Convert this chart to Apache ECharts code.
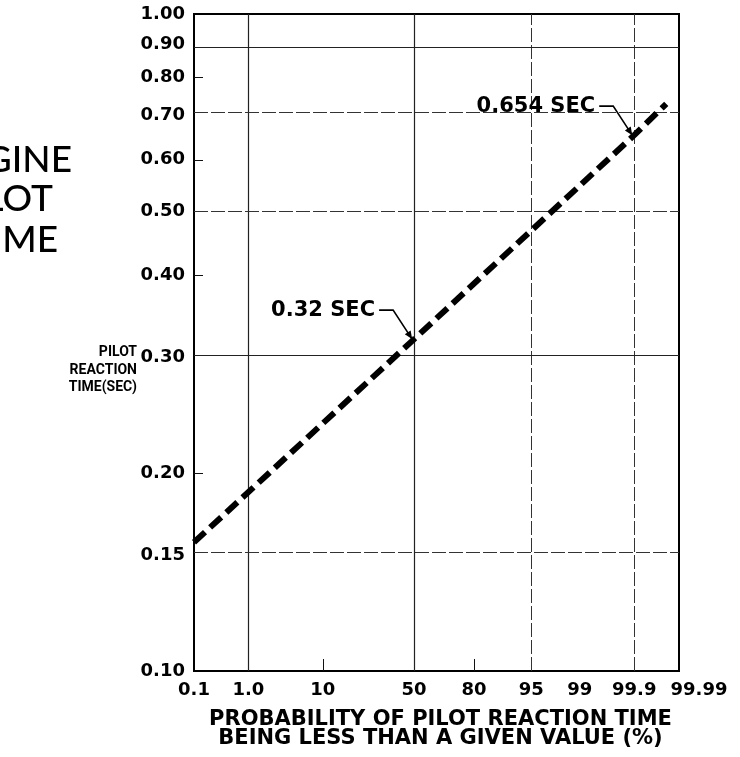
<!DOCTYPE html>
<html>
<head>
<meta charset="utf-8">
<script src="https://cdn.jsdelivr.net/npm/echarts@6/dist/echarts.min.js"></script>
<style>
  html, body { margin: 0; padding: 0; background: #fff; }
  #chart { width: 740px; height: 757px; }
</style>
</head>
<body>
<div id="chart"></div>
<script>
// Normal-probability x axis: tick positions (%) and their printed labels
const xTickPct = [0.1, 1, 10, 50, 80, 95, 99, 99.9, 99.99];
const xTickLabels = ['0.1', '1.0', '10', '50', '80', '95', '99', '99.9', '99.99'];
const xGridPct = [1, 50, 95, 99.9];
const xShortTickPct = [10, 80];

// Log reaction-time y axis (seconds)
const yTickValues = [0.10, 0.15, 0.20, 0.30, 0.40, 0.50, 0.60, 0.70, 0.80, 0.90, 1.00];
const yGridValues = [0.90, 0.70, 0.50, 0.30, 0.15];
const yShortTickValues = [0.20, 0.40, 0.60, 0.80];

// Reaction-time distribution line
const linePct = [0.1, 50, 99.9, 99.98];
const lineSec = [0.157, 0.32, 0.654, 0.73];

// Called-out points on the line
const calloutPct = [50, 99.9];
const calloutSec = [0.32, 0.654];
const calloutText = ['0.32 SEC', '0.654 SEC'];

// Standard normal quantile (Acklam's rational approximation) used for the probability scale
function probit(p) {
  const a = [-3.969683028665376e+01, 2.209460984245205e+02, -2.759285104469687e+02,
             1.383577518672690e+02, -3.066479806614716e+01, 2.506628277459239e+00];
  const b = [-5.447609879822406e+01, 1.615858368580409e+02, -1.556989798598866e+02,
             6.680131188771972e+01, -1.328068155288572e+01];
  const c = [-7.784894002430293e-03, -3.223964580411365e-01, -2.400758277161838e+00,
             -2.549732539343734e+00, 4.374664141464968e+00, 2.938163982698783e+00];
  const d = [7.784695709041462e-03, 3.224671290700398e-01, 2.445134137142996e+00,
             3.754408661907416e+00];
  const pl = 0.02425, ph = 1 - pl;
  let q, r;
  if (p < pl) {
    q = Math.sqrt(-2 * Math.log(p));
    return (((((c[0]*q+c[1])*q+c[2])*q+c[3])*q+c[4])*q+c[5]) / ((((d[0]*q+d[1])*q+d[2])*q+d[3])*q+1);
  }
  if (p <= ph) {
    q = p - 0.5; r = q * q;
    return (((((a[0]*r+a[1])*r+a[2])*r+a[3])*r+a[4])*r+a[5])*q / (((((b[0]*r+b[1])*r+b[2])*r+b[3])*r+b[4])*r+1);
  }
  q = Math.sqrt(-2 * Math.log(1 - p));
  return -(((((c[0]*q+c[1])*q+c[2])*q+c[3])*q+c[4])*q+c[5]) / ((((d[0]*q+d[1])*q+d[2])*q+d[3])*q+1);
}
const zx = pct => probit(pct / 100);
const ly = v => Math.log10(v);

const xTickZ = xTickPct.map(zx);
function xLabelFor(v) {
  let best = 0;
  xTickZ.forEach((z, i) => { if (Math.abs(z - v) < Math.abs(xTickZ[best] - v)) best = i; });
  return xTickLabels[best];
}

const TICK_FONT = 'DejaVu Sans';
const TITLE_FONT = 'DejaVu Sans';

const solidGrid = { color: '#222', width: 1.2, type: 'solid' };
const dashGrid = { color: '#333', width: 1, type: [14, 3] };
const solidX = new Set([1, 50]);
const solidY = new Set([0.90, 0.30]);

const chart = echarts.init(document.getElementById('chart'), null, { renderer: 'canvas' });

const option = {
  animation: false,
  backgroundColor: '#fff',
  grid: {
    left: 194, right: 61, top: 14, bottom: 86,
    show: true, borderColor: '#000', borderWidth: 2,
    containLabel: false, outerBoundsMode: 'none'
  },
  xAxis: {
    type: 'value',
    min: zx(xTickPct[0]),
    max: zx(xTickPct[xTickPct.length - 1]),
    axisLine: { show: true, onZero: false, lineStyle: { color: '#000', width: 2 } },
    axisTick: {
      show: true, inside: true, length: 12,
      customValues: xShortTickPct.map(zx),
      lineStyle: { color: '#111', width: 1 }
    },
    axisLabel: {
      show: true,
      customValues: xTickZ,
      margin: 10,
      color: '#000',
      fontFamily: TICK_FONT,
      fontSize: 18,
      fontWeight: 'bold',
      formatter: v => {
        const s = xLabelFor(v);
        return s === '99.99' ? '{edge|' + s + '}' : s;
      },
      rich: {
        edge: { padding: [0, 0, 0, 40], color: '#000', fontFamily: TICK_FONT, fontSize: 18, fontWeight: 'bold' }
      }
    },
    splitLine: { show: false },
    name: 'PROBABILITY OF PILOT REACTION TIME\nBEING LESS THAN A GIVEN VALUE (%)',
    nameLocation: 'middle',
    nameGap: 39,
    nameTextStyle: {
      color: '#000', fontFamily: TITLE_FONT, fontSize: 21, fontWeight: 'bold',
      lineHeight: 19, align: 'center', padding: [0, 0, 0, 8]
    }
  },
  yAxis: {
    type: 'value',
    min: ly(yTickValues[0]),
    max: ly(yTickValues[yTickValues.length - 1]),
    axisLine: { show: true, onZero: false, lineStyle: { color: '#000', width: 2 } },
    axisTick: {
      show: true, inside: true, length: 9,
      customValues: yShortTickValues.map(ly),
      lineStyle: { color: '#111', width: 1 }
    },
    axisLabel: {
      show: true,
      customValues: yTickValues.map(ly),
      margin: 9,
      color: '#000',
      fontFamily: TICK_FONT,
      fontSize: 18,
      fontWeight: 'bold',
      formatter: v => Math.pow(10, v).toFixed(2)
    },
    splitLine: { show: false }
  },
  series: [
    {
      // grid lines of the probability paper
      type: 'line',
      data: [],
      z: 1,
      silent: true,
      markLine: {
        silent: true,
        symbol: ['none', 'none'],
        label: { show: false },
        animation: false,
        data: [
          ...xGridPct.map(p => ({ xAxis: zx(p), lineStyle: solidX.has(p) ? solidGrid : dashGrid })),
          ...yGridValues.map(v => ({ yAxis: ly(v), lineStyle: solidY.has(v) ? solidGrid : dashGrid }))
        ]
      }
    },
    {
      type: 'line',
      z: 5,
      silent: true,
      symbol: 'none',
      data: linePct.map((p, i) => [zx(p), ly(lineSec[i])]),
      lineStyle: { color: '#000', width: 6, type: [15, 7], cap: 'butt' }
    }
  ]
};
chart.setOption(option);

// Callouts with leader lines ending in arrowheads at the called-out points
const graphics = [];
calloutPct.forEach((p, i) => {
  const [px, py] = chart.convertToPixel({ gridIndex: 0 }, [zx(p), ly(calloutSec[i])]);
  const start = [px - 35, py - 29];
  const corner = [px - 21, py - 29];
  const tip = [px - 2, py];
  graphics.push({
    type: 'text', z: 20,
    style: {
      text: calloutText[i], x: px - 39, y: py - 29,
      align: 'right', verticalAlign: 'middle',
      fill: '#000', font: 'bold 21px "DejaVu Sans"'
    }
  });
  graphics.push({
    type: 'polyline', z: 20,
    shape: { points: [start, corner, tip] },
    style: { stroke: '#000', lineWidth: 1.6, fill: null }
  });
  const dx = tip[0] - corner[0], dy = tip[1] - corner[1];
  const len = Math.hypot(dx, dy);
  const ux = dx / len, uy = dy / len;
  const bx = tip[0] - ux * 8, by = tip[1] - uy * 8;
  graphics.push({
    type: 'polygon', z: 21,
    shape: { points: [tip, [bx - uy * 3.5, by + ux * 3.5], [bx + uy * 3.5, by - ux * 3.5]] },
    style: { fill: '#000' }
  });
});

// y-axis title
graphics.push({
  type: 'text', z: 20,
  style: {
    text: 'PILOT\nREACTION\nTIME(SEC)', x: 137, y: 344,
    align: 'right', verticalAlign: 'top', lineHeight: 17.5,
    fill: '#000', font: 'bold 14px "Roboto"'
  }
});

// heading at the left edge
[['GINE', 72, 160], ['LOT', 53, 199], ['IME', 58, 240]].forEach(([t, x, y]) => {
  graphics.push({
    type: 'text', z: 20,
    style: {
      text: t, x: x, y: y, align: 'right', verticalAlign: 'middle',
      fill: '#000', font: '500 37px "Lato"'
    }
  });
});

chart.setOption({ graphic: graphics });
</script>
</body>
</html>
